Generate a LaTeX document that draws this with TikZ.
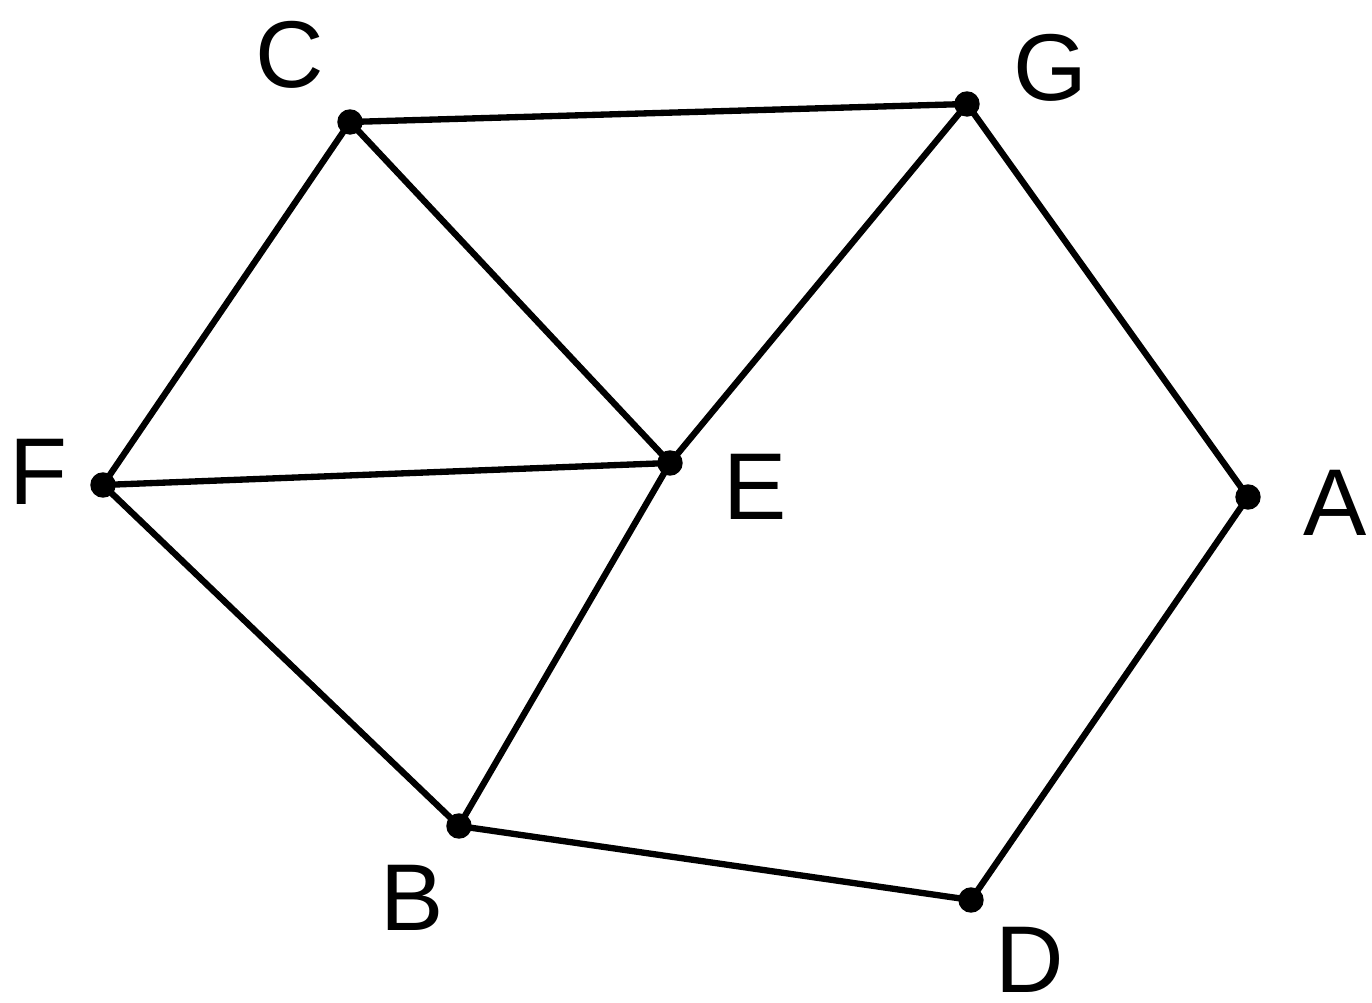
\documentclass[tikz,border=0pt]{standalone}
\usepackage{fontspec}
\setmainfont{Liberation Sans}
\begin{document}
\begin{tikzpicture}[every node/.style={font=\fontsize{27}{32}\selectfont}]
    \useasboundingbox (0,0) rectangle (13.72,10.02);
    \coordinate (C) at (3.50,8.80);
    \coordinate (G) at (9.67,8.98);
    \coordinate (F) at (1.03,5.17);
    \coordinate (E) at (6.70,5.39);
    \coordinate (A) at (12.48,5.05);
    \coordinate (B) at (4.59,1.76);
    \coordinate (D) at (9.71,1.02);
    \draw[line width=1.8pt] (C)--(G);
    \draw[line width=1.8pt] (C)--(F);
    \draw[line width=1.8pt] (C)--(E);
    \draw[line width=1.8pt] (G)--(E);
    \draw[line width=1.8pt] (G)--(A);
    \draw[line width=1.8pt] (F)--(E);
    \draw[line width=1.8pt] (F)--(B);
    \draw[line width=1.8pt] (E)--(B);
    \draw[line width=1.8pt] (B)--(D);
    \draw[line width=1.8pt] (D)--(A);
    \foreach \p in {C,G,F,E,A,B,D}
        \filldraw (\p) circle (0.12);
    \node (lC) at (2.90,9.47) {C};
    \node (lG) at (10.50,9.34) {G};
    \node (lF) at (0.38,5.30) {F};
    \node (lE) at (7.55,5.15) {E};
    \node (lA) at (13.35,4.99) {A};
    \node (lB) at (4.12,1.04) {B};
    \node (lD) at (10.30,0.42) {D};
\end{tikzpicture}
\end{document}
